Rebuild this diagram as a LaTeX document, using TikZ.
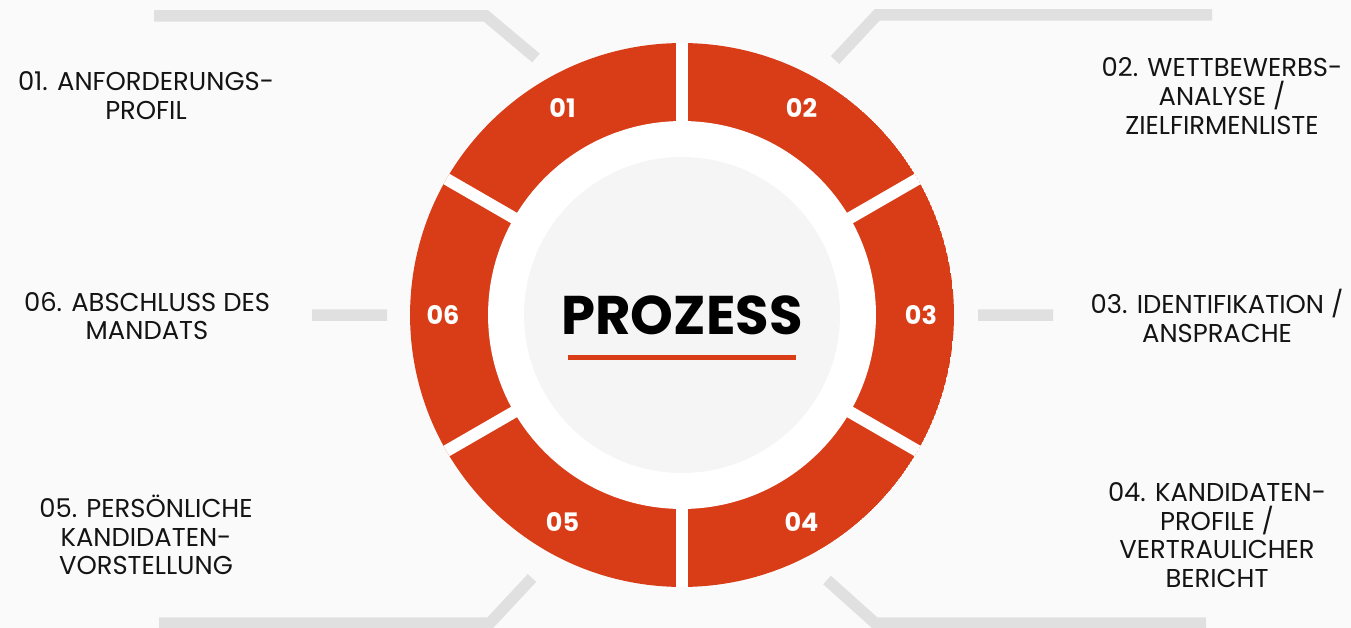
\documentclass[tikz,border=0pt]{standalone}
\usepackage{fontspec}
\setmainfont{Poppins}
\usepackage{xcolor}
\usetikzlibrary{
    calc,
    positioning
}
\definecolor{ringred}{HTML}{D93D18}
\definecolor{bargray}{HTML}{E0E0E0}
\definecolor{bggray}{HTML}{FAFAFA}
\definecolor{hubgray}{HTML}{F5F5F5}
\tikzset{
    stepnum/.style={text=white, font=\fontsize{14.5}{16}\selectfont\bfseries},
    steptext/.style={align=center, text=black!92, font=\fontsize{14.7}{16.4}\selectfont},
    gapline/.style={white, line width=0.24cm},
    leader/.style={bargray, line width=0.23cm}
}

\begin{document}
\begin{tikzpicture}[x=0.02cm, y=-0.02cm]
    \fill[bggray] (0,0) rectangle (1351,628);
    \useasboundingbox (0,0) rectangle (1351,628);
    \coordinate (c) at (682,315);

    % ring with six segments
    \begin{scope}
        \clip (c) circle[radius=5.44cm];
        \fill[ringred] (c) circle[radius=5.44cm];
        \foreach \a in {90,30,150}
            \draw[gapline] ([shift={(\a:5.7cm)}]c) -- ([shift={(\a+180:5.7cm)}]c);
    \end{scope}
    \fill[white] (c) circle[radius=3.88cm];
    \fill[hubgray] (c) circle[radius=3.16cm];

    \foreach \n/\a in {01/120, 02/60, 03/0, 04/-60, 05/-120, 06/180}
        \node[stepnum] (s\n) at ([shift={(\a:4.78cm)}]c) {\n};

    \node[font=\fontsize{31}{32}\selectfont\bfseries] (title) at (c) {PROZESS};
    \coordinate (ulL) at (568,357);
    \coordinate (ulR) at (796,357);
    \draw[ringred, line width=0.1cm] (ulL) -- (ulR);

    % leaders
    \coordinate (l1a) at (154,16);
    \coordinate (l1b) at (486,16);
    \coordinate (l1c) at (536,58);
    \coordinate (l2a) at (1212,15);
    \coordinate (l2b) at (877,15);
    \coordinate (l2c) at (835,60);
    \coordinate (l6a) at (312,315);
    \coordinate (l6b) at (387,315);
    \coordinate (l3a) at (978,315);
    \coordinate (l3b) at (1053,315);
    \coordinate (l5a) at (159,623);
    \coordinate (l5b) at (490,623);
    \coordinate (l5c) at (532,578);
    \coordinate (l4a) at (1206,623);
    \coordinate (l4b) at (875,623);
    \coordinate (l4c) at (827,580);
    \draw[leader]
    (l1a) -- (l1b) -- (l1c)
    (l2a) -- (l2b) -- (l2c)
    (l6a) -- (l6b)
    (l3a) -- (l3b)
    (l5a) -- (l5b) -- (l5c)
    (l4a) -- (l4b) -- (l4c);

    % step labels
    \node[steptext] (t1) at (146,96) {01. ANFORDERUNGS-\\PROFIL};
    \node[steptext] (t2) at (1222,96) {02. WETTBEWERBS-\\ANALYSE /\\ZIELFIRMENLISTE};
    \node[steptext] (t3) at (1217,316) {03. IDENTIFIKATION /\\ANSPRACHE};
    \node[steptext] (t4) at (1217,535) {04. KANDIDATEN-\\PROFILE /\\VERTRAULICHER\\BERICHT};
    \node[steptext] (t5) at (146,535) {05. PERSÖNLICHE\\KANDIDATEN-\\VORSTELLUNG};
    \node[steptext] (t6) at (147,316) {06. ABSCHLUSS DES\\MANDATS};
\end{tikzpicture}
\end{document}
